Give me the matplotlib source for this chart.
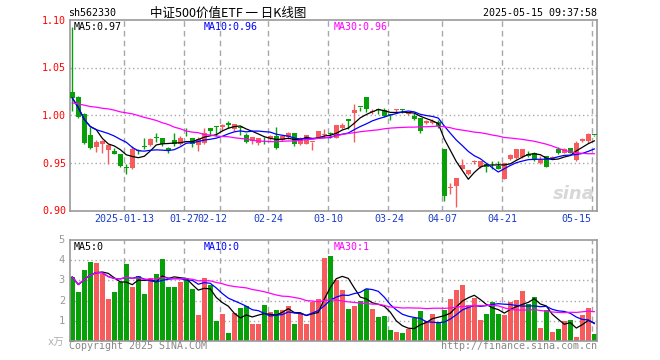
import numpy as np
import pandas as pd
import matplotlib
matplotlib.use("Agg")
import matplotlib.pyplot as plt

plt.rcParams['font.family'] = ['DejaVu Sans Mono', 'Noto Sans CJK SC']

# ---------------- data ----------------
opens = [1.0247, 1.0198, 1.0017, 0.9792, 0.967, 0.9705, 0.9642, 0.9628, 0.9594, 0.9455,
         0.9448, 0.9635, 0.9681, 0.9688, 0.9771, 0.976, 0.9663, 0.974, 0.9705, 0.983,
         0.976, 0.969, 0.9715, 0.9865, 0.9882, 0.9878, 0.9917, 0.9861, 0.9873, 0.980,
         0.9733, 0.9715, 0.9764, 0.976, 0.9785, 0.974, 0.9774, 0.9813, 0.970, 0.9705,
         0.9722, 0.9767, 0.980, 0.981, 0.9767, 0.9872, 0.9962, 1.0021, 1.0094, 1.019,
         1.0035, 1.0063, 1.0059, 1.0007, 1.0059, 1.0063, 1.0017, 1.0, 0.9969, 0.992,
         0.9925, 0.9934, 0.9646, 0.9243, 0.9264, 0.9444, 0.9385, 0.951, 0.9465, 0.949,
         0.948, 0.9472, 0.934, 0.9542, 0.9559, 0.9566, 0.9597, 0.9611, 0.950, 0.9576,
         0.9549, 0.9653, 0.9611, 0.9656, 0.9535, 0.9733, 0.9733, 0.9799]
highs = [1.093, 1.0205, 1.0024, 0.9882, 0.974, 0.9747, 0.970, 0.9663, 0.960, 0.949,
         0.968, 0.9645, 0.976, 0.976, 0.9813, 0.976, 0.967, 0.982, 0.9785, 0.9865,
         0.976, 0.977, 0.987, 0.9865, 0.9885, 0.9913, 0.994, 0.9906, 0.989, 0.982,
         0.9774, 0.9764, 0.9774, 0.9795, 0.9878, 0.980, 0.9826, 0.982, 0.978, 0.9792,
         0.9726, 0.9837, 0.9858, 0.9823, 0.9896, 0.9924, 0.9962, 1.0125, 1.0094, 1.019,
         1.0069, 1.008, 1.008, 1.0007, 1.0063, 1.0063, 1.0038, 1.0028, 0.9976, 0.9958,
         0.996, 0.9958, 0.9646, 0.9288, 0.935, 0.9549, 0.9427, 0.9535, 0.9524, 0.9497,
         0.9524, 0.9524, 0.9507, 0.9594, 0.9646, 0.9646, 0.9628, 0.9618, 0.9576, 0.9576,
         0.9576, 0.967, 0.9663, 0.9663, 0.9733, 0.9767, 0.982, 0.980]
lows = [1.0045, 0.997, 0.970, 0.9649, 0.9622, 0.961, 0.9497, 0.9594, 0.946, 0.9392,
        0.9438, 0.9594, 0.9645, 0.968, 0.9722, 0.968, 0.961, 0.968, 0.969, 0.9785,
        0.967, 0.9628, 0.9705, 0.980, 0.9785, 0.9837, 0.987, 0.9837, 0.9795, 0.9715,
        0.9698, 0.969, 0.970, 0.9747, 0.9646, 0.973, 0.975, 0.968, 0.969, 0.970,
        0.9635, 0.976, 0.9775, 0.9767, 0.976, 0.9854, 0.9854, 0.9726, 1.0045, 1.0035,
        1.0017, 1.0017, 0.9986, 0.9958, 1.0028, 1.0028, 1.0, 0.9958, 0.9812, 0.9913,
        0.991, 0.9872, 0.910, 0.9177, 0.9038, 0.9437, 0.9378, 0.949, 0.9455, 0.941,
        0.9437, 0.9437, 0.9333, 0.9535, 0.9549, 0.9559, 0.957, 0.9524, 0.9497, 0.9465,
        0.9542, 0.960, 0.9604, 0.9604, 0.9524, 0.9726, 0.9715, 0.979]
closes = [1.0184, 0.9983, 0.9708, 0.9663, 0.9719, 0.9733, 0.969, 0.960, 0.9472, 0.9448,
          0.9646, 0.9625, 0.9674, 0.975, 0.9764, 0.9705, 0.9642, 0.9698, 0.9767, 0.9823,
          0.970, 0.9757, 0.982, 0.9837, 0.988, 0.9896, 0.990, 0.9906, 0.987, 0.9722,
          0.9774, 0.9764, 0.976, 0.9785, 0.9663, 0.9785, 0.9813, 0.970, 0.9767, 0.9792,
          0.9726, 0.9837, 0.9805, 0.9806, 0.9896, 0.9896, 0.9941, 1.0056, 1.009, 1.0069,
          1.0038, 1.006, 0.9993, 1.0003, 1.0063, 1.0059, 1.0038, 0.9965, 0.9837, 0.9941,
          0.9945, 0.9889, 0.916, 0.9247, 0.935, 0.9479, 0.9427, 0.9514, 0.9524, 0.9465,
          0.9477, 0.9437, 0.9507, 0.9583, 0.9646, 0.9646, 0.958, 0.9542, 0.9535, 0.9465,
          0.957, 0.9611, 0.9646, 0.9611, 0.9708, 0.9757, 0.9802, 0.9795]
# 30-day average line of the price pane
ma30_price = [1.0132, 1.0122, 1.0108, 1.0094, 1.0087, 1.0076, 1.0069, 1.0056, 1.0038, 1.0028,
              1.0017, 1.0, 0.998, 0.9965, 0.9948, 0.9924, 0.9906, 0.9878, 0.9861, 0.9837,
              0.9826, 0.982, 0.980, 0.9795, 0.9785, 0.978, 0.9778, 0.9767, 0.976, 0.9753,
              0.974, 0.9733, 0.973, 0.9726, 0.9726, 0.973, 0.9733, 0.9733, 0.974, 0.9747,
              0.9753, 0.976, 0.9767, 0.9776, 0.9788, 0.9802, 0.9812, 0.982, 0.983, 0.9837,
              0.9844, 0.985, 0.9861, 0.9868, 0.9872, 0.9875, 0.9878, 0.9878, 0.9882, 0.9882,
              0.9885, 0.9889, 0.9882, 0.9872, 0.9856, 0.9847, 0.9837, 0.9826, 0.982, 0.9809,
              0.9795, 0.9785, 0.977, 0.9764, 0.9757, 0.975, 0.974, 0.973, 0.9715, 0.970,
              0.968, 0.9656, 0.9635, 0.962, 0.961, 0.9604, 0.960, 0.960]
volumes = [3.17, 2.42, 3.53, 3.93, 3.87, 3.33, 2.08, 2.43, 2.92, 3.83,
           2.68, 3.23, 2.33, 3.13, 3.30, 4.08, 2.68, 2.68, 2.92, 3.13,
           2.58, 1.28, 3.13, 2.78, 1.00, 1.33, 0.38, 1.38, 1.63, 1.73,
           0.83, 0.83, 1.78, 1.43, 1.53, 1.53, 1.73, 0.83, 1.38, 0.83,
           1.95, 2.08, 4.13, 4.23, 3.03, 2.53, 1.58, 1.75, 1.98, 2.58,
           1.58, 1.20, 1.25, 0.53, 0.43, 0.38, 0.58, 1.15, 1.48, 0.98,
           1.33, 0.95, 1.53, 2.08, 2.53, 2.78, 1.78, 2.15, 1.03, 1.33,
           1.93, 1.33, 1.28, 1.93, 2.03, 2.48, 1.85, 2.18, 0.63, 1.53,
           0.43, 0.58, 0.98, 1.03, 0.18, 1.28, 1.63, 0.33]
tick_index = [9, 19, 25, 33, 43, 53, 62, 72, 87]
tick_labels = ['2025-01-13', '01-27', '02-12', '02-24', '03-10', '03-24', '04-07', '04-21', '05-15']
price_ticks = [0.90, 0.95, 1.00, 1.05, 1.10]
vol_ticks = [1, 2, 3, 4, 5]
price_legend = ['MA5:0.97', 'MA10:0.96', 'MA30:0.96']
vol_legend = ['MA5:0', 'MA10:0', 'MA30:1']

# ---------------- styling ----------------
RED = '#f65c5c'
GREEN = '#08a008'
GRID = '#a8a8a8'
FRAME = '#999999'
MA_COLORS = ['black', '#0000ff', '#ff00ff']

W, H = 660, 360
fig = plt.figure(figsize=(6.6, 3.6), dpi=100)
fig.patch.set_facecolor('white')

def fx(px):
    return px / W

def fy(py):
    return 1 - py / H

L, R = 70, 597
ax = fig.add_axes([fx(L), fy(211), fx(R - L), (211 - 20) / H])
axv = fig.add_axes([fx(L), fy(341), fx(R - L), (341 - 240) / H])

n = len(closes)
x = np.arange(n)
o = np.array(opens); c = np.array(closes); hi = np.array(highs); lo = np.array(lows)
v = np.array(volumes)
up = c >= o
cols = np.where(up, RED, GREEN)

close_s = pd.Series(c)
ma5 = close_s.rolling(5, min_periods=1).mean()
ma10 = close_s.rolling(10, min_periods=1).mean()
vol_s = pd.Series(v)
vma5 = vol_s.rolling(5, min_periods=1).mean()
vma10 = vol_s.rolling(10, min_periods=1).mean()
vma30 = vol_s.rolling(30, min_periods=1).mean()

xl = (-0.38, 87.45)
for a in (ax, axv):
    a.set_xlim(*xl)
    for s in a.spines.values():
        s.set_color(FRAME)
        s.set_linewidth(1.2)
    a.tick_params(length=0)
    a.set_xticks([])
    for k in tick_index:
        a.axvline(k - 0.38, color=GRID, lw=1.0, ls=(0, (4, 3)), zorder=0)

# price pane
ax.set_ylim(0.90, 1.10)
for yv in [0.95, 1.00, 1.05]:
    ax.axhline(yv, color=GRID, lw=1.0, ls=(0, (1, 2)), zorder=0)
ax.vlines(x, lo, hi, colors=cols, lw=1.0, zorder=2)
body_b = np.minimum(o, c)
body_h = np.maximum(np.abs(c - o), 0.0009)
ax.bar(x, body_h, bottom=body_b, width=0.8, color=cols, lw=0, zorder=3)
ax.plot(x, ma5, color=MA_COLORS[0], lw=0.9, zorder=4)
ax.plot(x, ma10, color=MA_COLORS[1], lw=0.9, zorder=4)
ax.plot(x, ma30_price, color=MA_COLORS[2], lw=0.9, zorder=4)
ax.set_yticks([])

for pv in price_ticks:
    fig.text(fx(66), fy(116 - (pv - 1.0) * 954), f'{pv:.2f}', color='#ff0000',
             fontsize=7.2, ha='right', va='center')

# volume pane
axv.set_ylim(0, 5)
for yv in [1, 2, 3, 4]:
    axv.axhline(yv, color=GRID, lw=1.0, ls=(0, (1, 2)), zorder=0)
axv.bar(x, v, width=0.83, color=cols, lw=0, zorder=2)
axv.plot(x, vma5, color=MA_COLORS[0], lw=0.9, zorder=4)
axv.plot(x, vma10, color=MA_COLORS[1], lw=0.9, zorder=4)
axv.plot(x, vma30, color=MA_COLORS[2], lw=0.9, zorder=4)
axv.set_yticks([])
for tv in vol_ticks:
    fig.text(fx(65), fy(341 - tv * 20.2), str(tv), color='#999999',
             fontsize=7.5, ha='right', va='center')
fig.text(fx(64), fy(343), 'x万', color='#b0b0b0', fontsize=7.5, ha='right', va='center',
         family=['DejaVu Sans Mono', 'Noto Sans CJK SC'])

# x tick labels
label_px = [124, 184, 212, 268, 328, 389, 442, 502, 576]
for lab, px in zip(tick_labels, label_px):
    fig.text(fx(px), fy(219), lab, color='#1a3dc8', fontsize=7.2, ha='center', va='center')

# header texts
fig.text(fx(68), fy(13), 'sh562330', color='black', fontsize=7.2, ha='left', va='center')
fig.text(fx(150), fy(13), '中证500价值ETF 一 日K线图', color='black', fontsize=9,
         ha='left', va='center', family=['Noto Sans CJK SC', 'DejaVu Sans'])
fig.text(fx(597), fy(13), '2025-05-15 09:37:58', color='black', fontsize=7.2,
         ha='right', va='center')

# MA legends
for txt, col, px in zip(price_legend, MA_COLORS, [74, 204, 334]):
    fig.text(fx(px), fy(27), txt, color=col, fontsize=7.2, va='center')
for txt, col, px in zip(vol_legend, MA_COLORS, [74, 204, 334]):
    fig.text(fx(px), fy(247), txt, color=col, fontsize=7.2, va='center')

# footer
fig.text(fx(69), fy(346), 'Copyright 2025 SINA.COM', color='#888888', fontsize=7.2,
         ha='left', va='center')
fig.text(fx(597), fy(346), 'http://finance.sina.com.cn', color='#888888', fontsize=7.2,
         ha='right', va='center')

# watermark
ax.text(0.995, 0.04, 'sina', transform=ax.transAxes, color='#d8d8d8', fontsize=13,
        fontweight='bold', style='italic', ha='right', va='bottom', family='DejaVu Sans',
        zorder=1)

fig.savefig('out.png', dpi=100)
